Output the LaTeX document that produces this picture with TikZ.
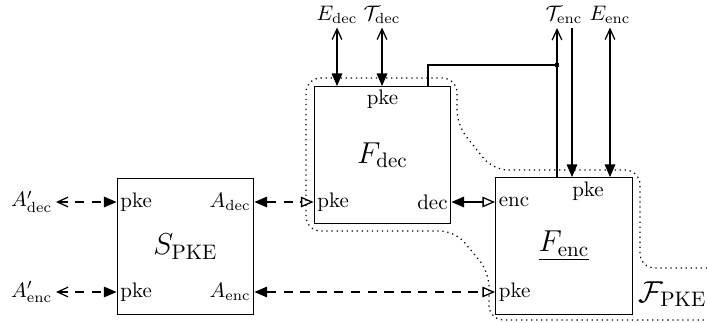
\documentclass[tikz,border=0pt]{standalone}
\usetikzlibrary{arrows.meta}
\begin{document}
\begin{tikzpicture}[x=0.476pt, y=-0.476pt, semithick,
    blk/.style = {draw, minimum width=65pt, minimum height=65pt, inner sep=0pt},
    lbl/.style = {inner sep=1.5pt},
    sig/.style = {dash pattern=on 4.5pt off 3.5pt},
    Tfull/.tip = {Triangle[length=6pt, width=5pt]},
    Topen/.tip = {Triangle[open, length=6pt, width=5pt]},
    Tbarb/.tip = {Straight Barb[length=5pt, width=4.6pt]}]
    \useasboundingbox (0,0) rectangle (707,322);

    % the three blocks
    \node[blk] (S)    at (185.5,246.5) {\Large $S_{\mathrm{PKE}}$};
    \node[blk] (Fdec) at (382.5,155)   {\Large $F_{\mathrm{dec}}$};
    \node[blk] (Fenc) at (564,246)     {\Large \underline{$F_{\mathrm{enc}}$}};

    % ports inside the blocks
    \node[lbl, anchor=west] (Spke1) at (S.west |- 0,202)    {pke};
    \node[lbl, anchor=west] (Spke2) at (S.west |- 0,292)    {pke};
    \node[lbl, anchor=east] (Sdec)  at (S.east |- 0,202)    {$A_{\mathrm{dec}}$};
    \node[lbl, anchor=east] (Senc)  at (S.east |- 0,292)    {$A_{\mathrm{enc}}$};
    \node[lbl, anchor=west] (Dpke)  at (Fdec.west |- 0,202) {pke};
    \node[lbl, anchor=east] (Ddec)  at (Fdec.east |- 0,202) {dec};
    \node[lbl, anchor=north] (Dtop) at (Fdec.north)         {pke};
    \node[lbl, anchor=west] (Eenc)  at (Fenc.west |- 0,202) {enc};
    \node[lbl, anchor=west] (Epke)  at (Fenc.west |- 0,292) {pke};
    \node[lbl, anchor=north] (Etop) at (588,178)            {pke};

    % outer interfaces
    \node[lbl, anchor=east] (Adecp) at (56,202) {$A'_{\mathrm{dec}}$};
    \node[lbl, anchor=east] (Aencp) at (56,292) {$A'_{\mathrm{enc}}$};
    \node[lbl] (Edec) at (337,15) {$E_{\mathrm{dec}}$};
    \node[lbl] (Tdec) at (382,15) {$\mathcal{T}_{\mathrm{dec}}$};
    \node[lbl] (Tenc) at (564,15) {$\mathcal{T}_{\mathrm{enc}}$};
    \node[lbl] (Eenc2) at (610,15) {$E_{\mathrm{enc}}$};
    \node[inner sep=0pt, anchor=east] (FPKE) at (707,294) {\Large $\mathcal{F}_{\mathrm{PKE}}$};

    \coordinate (tup)  at (557,28);
    \coordinate (tin)  at (572,28);
    \coordinate (junc) at (557,65);

    \draw[sig, {Tbarb}-{Tfull}]   (Adecp.east) -- (Spke1.west);
    \draw[sig, {Tbarb}-{Tfull}]   (Aencp.east) -- (Spke2.west);
    \draw[sig, {Tfull}-{Topen}] (Sdec.east) -- (Dpke.west);
    \draw[sig, {Tfull}-{Topen}] (Senc.east) -- (Epke.west);
    \draw[{Tfull}-{Topen}]      (Ddec.east) -- (Eenc.west);

    \draw[{Tbarb}-{Tfull}] (Edec.south) -- (Edec.south |- Fdec.north);
    \draw[{Tbarb}-{Tfull}] (Tdec.south) -- (Tdec.south |- Fdec.north);
    \draw[{Tbarb}-{Tfull}] (Eenc2.south) -- (Eenc2.south |- Fenc.north);
    \draw[-{Tfull}] (tin) -- (tin |- Fenc.north);
    \draw[-{Tbarb}] (tup |- Fenc.north) -- (tup);
    \draw (Fdec.north -| 428,0) |- (junc);
    \fill (junc) +(-2,-2) rectangle +(2,2);

    % functionality boundary
    \draw[line width=0.6pt, dash pattern=on 0.6pt off 1.8pt, rounded corners=7pt]
        (707,268) -- (640,268) -- (640,170) -- (493,170)
        -- (457,125) -- (457,78) -- (306,78) -- (306,231) -- (455,231) -- (489,272)
        -- (489,320) -- (707,320);
\end{tikzpicture}
\end{document}
